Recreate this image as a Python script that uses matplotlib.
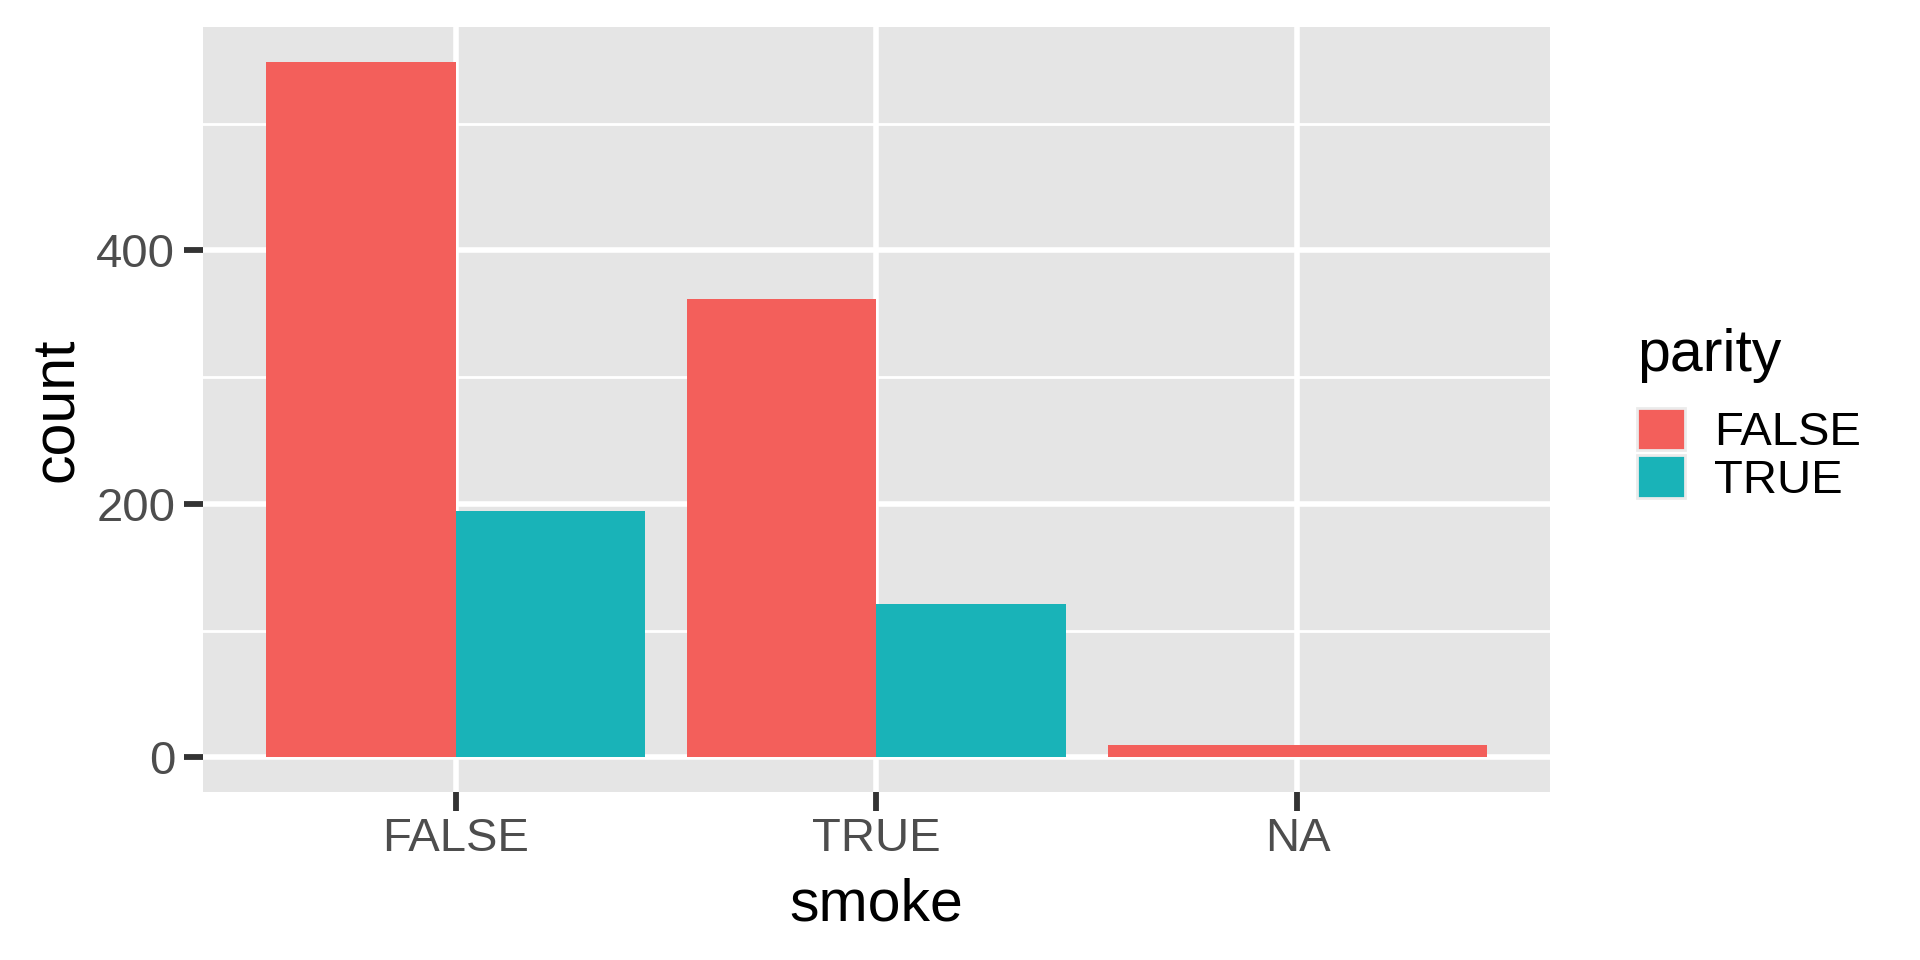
import matplotlib
matplotlib.use('Agg')
import matplotlib.pyplot as plt
from matplotlib.patches import Patch
from matplotlib.ticker import MultipleLocator
import numpy as np

# Data: counts of smoke by parity
smoke = ['FALSE', 'TRUE', 'NA']
parity = ['FALSE', 'TRUE']
count_parity_false = [549, 362, 10]
count_parity_true = [194, 121, None]   # no TRUE parity in the NA group

colors = ['#F35F5B', '#19B3B8']

plt.rcParams['font.family'] = ['Liberation Sans', 'DejaVu Sans']

fig = plt.figure(figsize=(19.2, 9.6), dpi=100)
ax = fig.add_axes([0.1057, 0.175, 0.7016, 0.797])
ax.set_facecolor('#E5E5E5')

# dodge bars within each category (total width 0.9)
series = [count_parity_false, count_parity_true]
x = np.arange(1, len(smoke) + 1)
for i, xi in enumerate(x):
    present = [(k, s[i]) for k, s in enumerate(series) if s[i] is not None]
    w = 0.9 / len(present)
    for j, (k, v) in enumerate(present):
        left = xi - 0.45 + j * w
        ax.bar(left, v, width=w, align='edge', color=colors[k], linewidth=0, zorder=3)

ymax = max(count_parity_false)
ax.set_ylim(-0.05 * ymax, 1.05 * ymax)
ax.set_xlim(0.4, 3.6)
ax.set_xticks(x)
ax.set_xticklabels(smoke)
ax.yaxis.set_major_locator(MultipleLocator(200))
ax.yaxis.set_minor_locator(MultipleLocator(100))

ax.grid(True, which='major', color='white', linewidth=4.0, zorder=1)
ax.grid(True, which='minor', axis='y', color='white', linewidth=2.0, zorder=1)
ax.set_axisbelow(True)
for sp in ax.spines.values():
    sp.set_visible(False)

ax.tick_params(axis='both', which='major', length=14, width=4.2, color='#333333',
               labelsize=34, labelcolor='#4D4D4D', pad=6)
ax.tick_params(axis='x', which='major', pad=4)
ax.tick_params(axis='both', which='minor', length=0)

ax.set_xlabel('smoke', fontsize=42.5, color='black', labelpad=12)
ax.set_ylabel('count', fontsize=42.5, color='black', labelpad=8)

handles = [Patch(facecolor=c, edgecolor='#EBEBEB', linewidth=2) for c in colors]
leg = fig.legend(handles, parity, title='parity', loc='upper left',
                 bbox_to_anchor=(0.843, 0.678), frameon=False, fontsize=34,
                 title_fontsize=42.5, handlelength=1.0, handleheight=1.0,
                 labelspacing=0.0, handletextpad=0.62, borderaxespad=0,
                 alignment='left')
leg._legend_box.sep = 18

fig.savefig('out.png', dpi=100)
